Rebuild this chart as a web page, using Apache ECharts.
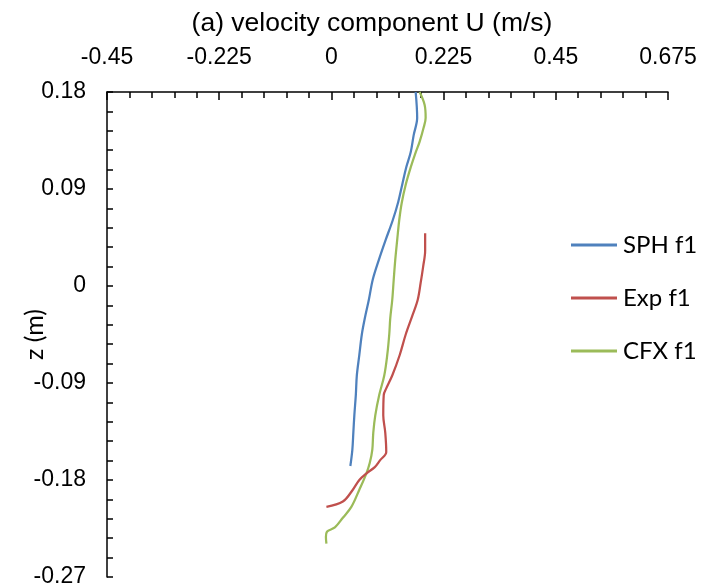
<!DOCTYPE html>
<html>
<head>
<meta charset="utf-8">
<script src="https://cdn.jsdelivr.net/npm/echarts@6/dist/echarts.min.js"></script>
<style>
  html, body { margin: 0; padding: 0; background: #fff; }
  #chart { width: 704px; height: 587px; }
</style>
</head>
<body>
<div id="chart"></div>
<script>
// Vertical profiles of the U velocity component: [U (m/s), z (m)]
const seriesNames = ['SPH f1', 'Exp f1', 'CFX f1'];

const sphF1 = [
  [0.169, 0.180], [0.172, 0.156], [0.165, 0.140], [0.159, 0.124], [0.150, 0.110],
  [0.142, 0.094], [0.134, 0.078], [0.123, 0.061], [0.109, 0.043], [0.095, 0.024],
  [0.083, 0.006], [0.075, -0.013], [0.067, -0.030], [0.061, -0.045], [0.056, -0.064],
  [0.051, -0.083], [0.049, -0.101], [0.046, -0.120], [0.044, -0.136], [0.042, -0.152],
  [0.038, -0.167]
];

const expF1 = [
  [0.188, 0.049], [0.188, 0.033], [0.184, 0.018], [0.179, 0.003], [0.173, -0.013],
  [0.162, -0.028], [0.149, -0.045], [0.137, -0.064], [0.122, -0.083], [0.110, -0.095],
  [0.105, -0.101], [0.104, -0.120], [0.108, -0.136], [0.110, -0.154], [0.097, -0.162],
  [0.087, -0.168], [0.070, -0.174], [0.056, -0.180], [0.043, -0.189], [0.023, -0.200],
  [-0.010, -0.205]
];

const cfxF1 = [
  [0.177, 0.180], [0.187, 0.168], [0.189, 0.156], [0.185, 0.147], [0.177, 0.134],
  [0.169, 0.124], [0.159, 0.110], [0.149, 0.094], [0.141, 0.077], [0.136, 0.061],
  [0.132, 0.043], [0.128, 0.024], [0.125, 0.006], [0.122, -0.013], [0.118, -0.030],
  [0.116, -0.045], [0.112, -0.064], [0.106, -0.083], [0.096, -0.101], [0.088, -0.120],
  [0.084, -0.136], [0.082, -0.152], [0.077, -0.164], [0.070, -0.174], [0.056, -0.189],
  [0.040, -0.205], [0.023, -0.215], [0.007, -0.224], [-0.009, -0.228], [-0.011, -0.233],
  [-0.010, -0.239]
];

// Axis scales and tick steps
const xMin = -0.45, xMax = 0.675, xStep = 0.225;
const yMin = -0.27, yMax = 0.18, yStep = 0.09;

const titleText = '(a) velocity component U (m/s)';
const yAxisName = 'z (m)';

const colors = ['#4F81BD', '#C0504D', '#9BBB59'];
const fmt = v => String(+v.toFixed(3));
const labelFont = 'Liberation Sans, Arial, sans-serif';
const legendFont = 'Lato, Carlito, sans-serif';

const chart = echarts.init(document.getElementById('chart'), null, { renderer: 'canvas' });

const lineSeries = [sphF1, expF1, cfxF1].map((data, i) => ({
  name: seriesNames[i],
  type: 'line',
  data: data,
  smooth: 0.35,
  showSymbol: false,
  symbol: 'none',
  lineStyle: { width: 2.25, color: colors[i] },
  itemStyle: { color: colors[i] },
  z: 3 - i
}));

chart.setOption({
  animation: false,
  backgroundColor: '#ffffff',
  title: {
    text: titleText,
    left: 367,
    top: 5,
    textAlign: 'center',
    textStyle: {
      fontFamily: labelFont,
      fontWeight: 'normal',
      fontSize: 26.5,
      color: '#000'
    }
  },
  legend: {
    orient: 'vertical',
    left: 566,
    top: 228,
    itemWidth: 46,
    itemHeight: 3,
    itemGap: 29,
    icon: 'rect',
    textStyle: { fontFamily: legendFont, fontSize: 24, color: '#000', padding: [0, 0, 0, 1] },
    data: seriesNames
  },
  grid: {
    left: 107, top: 92, right: 36, bottom: 10,
    containLabel: false,
    outerBoundsMode: 'none'
  },
  xAxis: {
    type: 'value',
    position: 'top',
    min: xMin, max: xMax, interval: xStep,
    axisLine: { show: true, onZero: false, lineStyle: { color: '#000', width: 1.5 } },
    axisTick: { show: true, inside: true, length: 8, lineStyle: { color: '#000', width: 1.5 } },
    minorTick: { show: true, splitNumber: 5, length: 6, lineStyle: { color: '#000', width: 1.5 } },
    splitLine: { show: false },
    axisLabel: {
      margin: 23,
      formatter: fmt,
      fontFamily: labelFont,
      fontSize: 23, color: '#000'
    }
  },
  yAxis: {
    type: 'value',
    min: yMin, max: yMax, interval: yStep,
    name: yAxisName,
    nameLocation: 'middle',
    nameRotate: 90,
    nameGap: 60,
    nameMoveOverlap: false,
    nameTextStyle: { fontFamily: legendFont, fontSize: 25, color: '#000' },
    axisLine: { show: true, onZero: false, lineStyle: { color: '#000', width: 1.5 } },
    axisTick: { show: true, inside: true, length: 6, lineStyle: { color: '#000', width: 1.5 } },
    minorTick: { show: true, splitNumber: 5, length: 6, lineStyle: { color: '#000', width: 1.5 } },
    splitLine: { show: false },
    axisLabel: {
      margin: 21,
      formatter: fmt,
      fontFamily: labelFont,
      fontSize: 23, color: '#000'
    }
  },
  series: lineSeries
});
</script>
</body>
</html>
